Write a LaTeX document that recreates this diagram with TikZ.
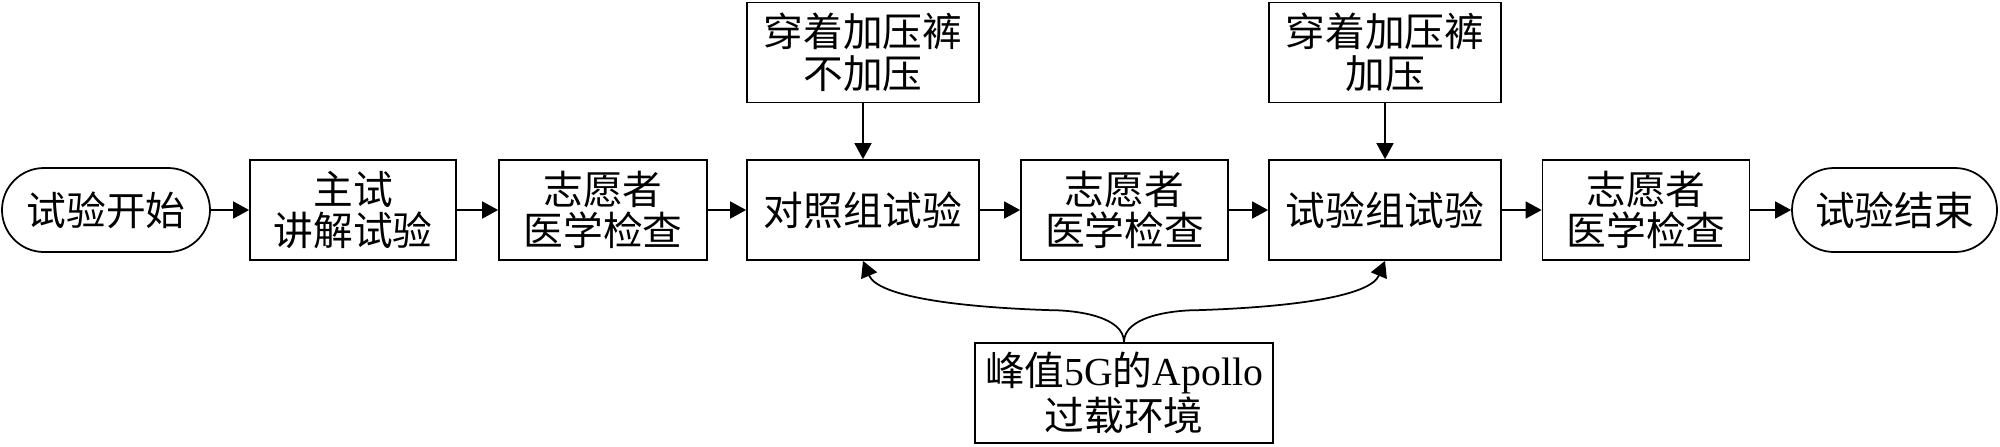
\documentclass[tikz,border=0pt]{standalone}
\usepackage{fontspec}
\setmainfont{Liberation Serif}
\newfontfamily\cjk{Noto Sans CJK SC}
\usetikzlibrary{arrows.meta}
\newcommand{\rowy}{2.36}
\newcommand{\topy}{3.935}

\tikzset{
    box/.style={draw, line width=0.5pt, minimum height=1cm, inner sep=0pt, align=center,
        font=\cjk\fontsize{11.3}{11.8}\selectfont},
    pill/.style={box, rounded corners=0.42cm, minimum height=0.84cm},
    arr/.style={line width=0.5pt, -{Triangle[length=1.6mm, width=1.7mm]}}
}

\begin{document}
\begin{tikzpicture}

        \useasboundingbox (0, 0) rectangle (20, 4.46);

        \node[pill, minimum width=2.08cm] (start) at (1.06, \rowy) {试验开始};
        \node[box, minimum width=2.06cm] (brief) at (3.53, \rowy) {主试\\讲解试验};
        \node[box, minimum width=2.08cm] (check1) at (6.03, \rowy) {志愿者\\医学检查};
        \node[box, minimum width=2.32cm] (ctrl) at (8.63, \rowy) {对照组试验};
        \node[box, minimum width=2.07cm] (check2) at (11.245, \rowy) {志愿者\\医学检查};
        \node[box, minimum width=2.32cm] (test) at (13.85, \rowy) {试验组试验};
        \node[box, minimum width=2.07cm] (check3) at (16.46, \rowy) {志愿者\\医学检查};
        \node[pill, minimum width=2.05cm] (finish) at (18.945, \rowy) {试验结束};

        \node[box, minimum width=2.32cm] (nopress) at (8.63, \topy) {穿着加压裤\\不加压};
        \node[box, minimum width=2.32cm] (press) at (13.85, \topy) {穿着加压裤\\加压};

        \node[box, minimum width=2.98cm] (env) at (11.24, 0.53)
            {峰值{\rmfamily 5G}的{\rmfamily Apollo}\\过载环境};

        \draw[arr] (start) -- (brief);
        \draw[arr] (brief) -- (check1);
        \draw[arr] (check1) -- (ctrl);
        \draw[arr] (ctrl) -- (check2);
        \draw[arr] (check2) -- (test);
        \draw[arr] (test) -- (check3);
        \draw[arr] (check3) -- (finish);

        \draw[arr] (nopress) -- (ctrl);
        \draw[arr] (press) -- (test);

        \draw[arr] (env.north) .. controls +(0, 0.25) and +(0.3, 0) .. ++(-0.75, 0.32)
            .. controls +(-0.9, 0.03) and +(0.15, -0.36) .. (ctrl.south);
        \draw[arr] (env.north) .. controls +(0, 0.25) and +(-0.3, 0) .. ++(0.75, 0.32)
            .. controls +(0.9, 0.03) and +(-0.15, -0.36) .. (test.south);

\end{tikzpicture}
\end{document}
